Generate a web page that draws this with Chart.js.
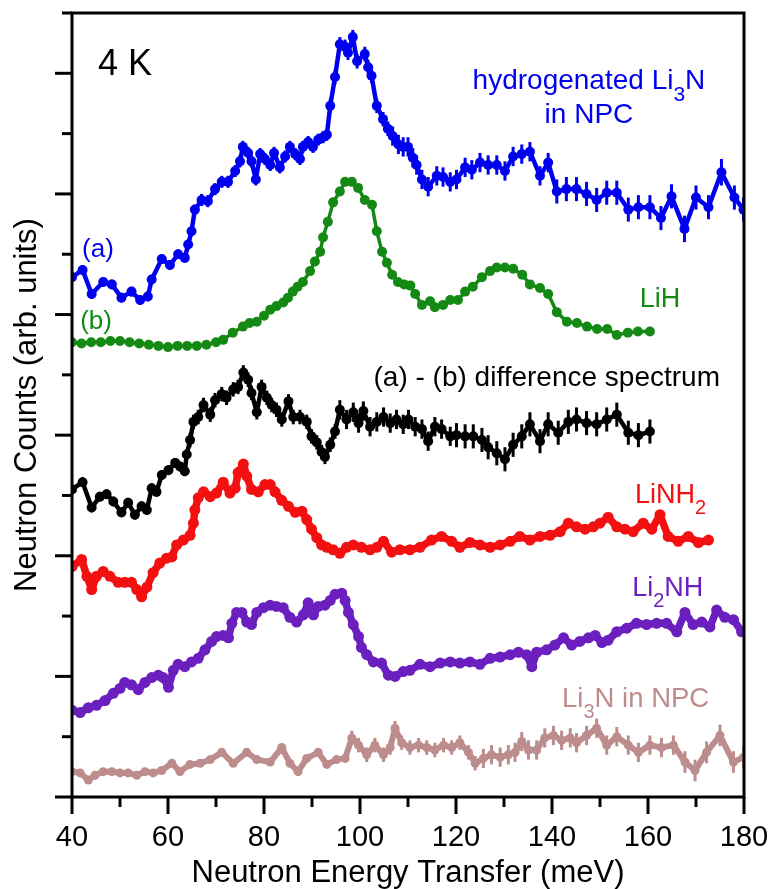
<!DOCTYPE html>
<html><head><meta charset="utf-8">
<script src="https://cdn.jsdelivr.net/npm/chart.js@4.4.1/dist/chart.umd.min.js"></script>
<style>html,body{margin:0;padding:0;background:#fff;overflow:hidden}#wrap{width:774px;height:889px;position:relative}canvas{display:block}</style>
</head><body><div id="wrap"><canvas id="c"></canvas></div>
<script>
// ---------- data (x: meV, y: arbitrary units, e: error half-width) ----------
const xHyd = [40.0,42.2,44.1,46.5,48.3,50.3,52.4,54.2,55.8,56.6,58.7,60.4,62.1,63.5,64.2,64.9,65.6,67.0,68.3,69.8,71.2,72.5,74.0,75.0,75.6,76.7,77.4,78.3,79.2,80.2,81.3,82.1,83.3,84.4,85.4,86.5,87.5,88.1,89.2,90.2,91.3,92.3,93.1,93.8,94.8,95.8,96.9,97.5,98.5,99.4,101.0,101.7,102.4,103.5,104.8,105.8,106.8,108.0,109.0,110.0,111.0,111.8,112.9,114.2,116.0,117.3,118.8,120.1,121.9,123.3,125.0,126.7,128.5,130.2,131.9,133.7,135.4,137.5,139.2,141.0,143.0,145.1,147.2,149.3,151.4,153.5,155.9,158.0,160.4,162.7,164.9,167.6,170.0,172.6,175.3,178.0,179.9];
const yHyd = [4.31,4.37,4.17,4.27,4.25,4.14,4.19,4.12,4.15,4.29,4.46,4.41,4.50,4.47,4.58,4.69,4.87,4.95,4.94,5.04,5.10,5.10,5.19,5.27,5.39,5.34,5.27,5.12,5.33,5.29,5.24,5.34,5.22,5.31,5.39,5.33,5.29,5.39,5.43,5.39,5.45,5.47,5.49,5.73,5.97,6.24,6.22,6.17,6.30,6.10,6.16,6.05,5.98,5.73,5.62,5.54,5.48,5.41,5.39,5.39,5.30,5.24,5.12,5.06,5.15,5.14,5.10,5.12,5.22,5.20,5.26,5.24,5.24,5.19,5.31,5.33,5.35,5.15,5.26,5.02,5.04,5.04,5.00,4.95,5.01,5.01,4.87,4.89,4.89,4.80,4.98,4.71,4.97,4.89,5.18,4.97,4.87];
const eHyd = [0.04,0.04,0.04,0.04,0.04,0.04,0.04,0.04,0.04,0.04,0.04,0.04,0.04,0.04,0.04,0.04,0.04,0.05,0.05,0.05,0.05,0.05,0.05,0.05,0.05,0.05,0.05,0.05,0.05,0.05,0.05,0.05,0.05,0.05,0.05,0.05,0.05,0.05,0.05,0.05,0.05,0.05,0.05,0.06,0.06,0.06,0.06,0.06,0.06,0.06,0.06,0.06,0.06,0.06,0.06,0.06,0.08,0.08,0.08,0.08,0.08,0.08,0.08,0.08,0.08,0.08,0.08,0.08,0.08,0.08,0.08,0.08,0.08,0.08,0.08,0.08,0.08,0.08,0.08,0.10,0.10,0.10,0.10,0.10,0.10,0.10,0.10,0.10,0.10,0.10,0.10,0.11,0.10,0.10,0.11,0.10,0.10];

const xLiH = [40,42,44,46,48,50,52,54,56,58,60,62,64,66,68,70,71.5,73.5,75.6,77.0,78.5,80.0,81.3,82.6,84.0,85.0,86.0,87.0,88.1,89.6,90.6,91.7,92.3,93.3,94.4,95.8,96.9,98.3,99.6,101.0,102.5,103.5,104.6,105.6,106.7,107.9,109.2,110.5,111.5,112.9,114.6,115.6,117.3,118.8,120.4,121.9,123.5,125.4,127.1,128.5,130.2,131.9,133.8,135.4,137.5,139.2,141.0,143.1,145.2,147.3,149.4,151.5,153.5,155.8,157.9,160.4];
const yLiH = [3.77,3.76,3.77,3.77,3.78,3.78,3.77,3.76,3.75,3.74,3.73,3.74,3.74,3.74,3.75,3.77,3.79,3.85,3.90,3.93,3.94,3.99,4.04,4.07,4.10,4.14,4.19,4.23,4.27,4.36,4.44,4.52,4.64,4.77,4.93,5.02,5.10,5.10,5.05,4.95,4.91,4.69,4.52,4.43,4.33,4.27,4.25,4.24,4.17,4.08,4.11,4.06,4.08,4.12,4.12,4.19,4.23,4.31,4.36,4.39,4.39,4.38,4.33,4.25,4.22,4.17,4.02,3.94,3.93,3.90,3.88,3.88,3.83,3.85,3.86,3.86];

const xDiff = [40.0,42.2,44.1,45.8,47.2,48.6,50.3,51.7,53.1,54.5,55.6,56.6,57.6,58.7,60.1,61.5,62.5,63.5,63.9,64.6,65.3,66.3,67.4,68.8,69.8,71.2,72.2,73.6,74.6,75.7,76.7,77.4,78.5,79.5,80.6,81.6,82.6,83.7,85.1,86.1,87.5,88.9,89.9,91.0,92.0,92.7,93.8,94.8,95.8,97.2,98.6,99.7,100.7,102.1,103.5,104.9,106.3,107.6,109.0,110.1,111.5,112.9,114.2,115.6,117.0,118.8,120.1,121.9,123.6,125.4,126.7,128.5,130.2,131.9,133.7,135.4,137.5,139.2,141.3,143.4,145.1,147.2,149.3,151.4,153.5,155.9,158.0,160.4];
const yDiff = [2.55,2.61,2.40,2.49,2.51,2.45,2.36,2.44,2.34,2.41,2.38,2.56,2.53,2.67,2.71,2.77,2.74,2.70,2.84,2.96,3.11,3.15,3.25,3.17,3.29,3.34,3.31,3.38,3.40,3.52,3.46,3.35,3.19,3.40,3.31,3.25,3.21,3.13,3.28,3.15,3.15,3.11,2.99,2.94,2.86,2.82,2.92,3.03,3.21,3.13,3.19,3.10,3.20,3.07,3.11,3.15,3.10,3.13,3.09,3.13,3.07,3.05,2.95,3.07,3.05,2.99,3.00,2.99,2.99,2.96,2.90,2.85,2.80,2.92,2.99,3.09,2.95,3.09,3.02,3.11,3.13,3.10,3.09,3.13,3.17,3.02,3.00,3.03];
const eDiff = [0.04,0.04,0.04,0.04,0.04,0.04,0.04,0.04,0.04,0.04,0.04,0.04,0.04,0.04,0.04,0.04,0.04,0.04,0.04,0.06,0.06,0.06,0.06,0.06,0.06,0.06,0.06,0.06,0.06,0.06,0.06,0.06,0.06,0.06,0.06,0.06,0.06,0.06,0.06,0.06,0.06,0.06,0.06,0.06,0.06,0.06,0.06,0.06,0.08,0.08,0.08,0.08,0.08,0.08,0.08,0.08,0.08,0.08,0.08,0.08,0.08,0.08,0.08,0.08,0.08,0.08,0.10,0.10,0.10,0.10,0.10,0.10,0.10,0.10,0.10,0.10,0.10,0.10,0.10,0.10,0.10,0.10,0.10,0.10,0.10,0.10,0.10,0.10];

const xLiNH2 = [40.0,42.0,43.1,44.1,45.1,46.5,47.9,49.6,51.0,52.4,53.5,54.5,55.6,56.9,58.3,59.7,60.8,61.8,63.2,64.6,65.3,65.6,66.3,67.4,68.8,70.1,71.5,72.9,74.0,74.6,75.7,76.4,77.4,78.8,80.2,81.3,82.3,83.7,85.1,86.5,87.9,88.9,89.9,91.0,92.0,93.1,94.4,95.8,97.2,98.6,100.3,102.1,103.5,104.9,106.6,108.3,110.4,112.5,114.9,117.0,119.1,120.8,122.9,125.0,127.1,129.2,131.3,133.3,135.4,137.5,139.6,141.7,143.4,145.1,146.9,148.6,150.0,151.7,153.5,155.2,156.9,159.0,160.8,162.5,164.2,166.3,168.4,170.5,172.6];
const yLiNH2 = [1.91,1.97,1.83,1.72,1.83,1.87,1.83,1.78,1.78,1.78,1.72,1.66,1.74,1.86,1.94,1.98,1.99,2.09,2.13,2.17,2.27,2.38,2.48,2.53,2.49,2.52,2.61,2.52,2.56,2.69,2.76,2.66,2.55,2.53,2.59,2.59,2.53,2.46,2.41,2.36,2.37,2.30,2.22,2.15,2.09,2.07,2.05,2.02,2.07,2.09,2.07,2.05,2.07,2.12,2.03,2.05,2.05,2.07,2.13,2.16,2.12,2.07,2.11,2.09,2.07,2.09,2.12,2.16,2.13,2.16,2.17,2.20,2.27,2.24,2.22,2.24,2.27,2.32,2.24,2.22,2.20,2.27,2.22,2.34,2.16,2.12,2.16,2.11,2.13];

const xLi2NH = [40.0,41.7,43.4,45.1,46.9,48.6,50.0,51.0,52.4,53.8,55.2,56.6,58.0,59.0,60.1,61.1,62.1,63.5,64.9,66.3,67.7,69.1,70.1,71.5,72.6,73.3,74.3,75.4,76.4,77.4,78.5,79.9,81.3,82.6,84.0,85.4,86.8,88.2,89.2,90.3,91.3,92.7,93.8,94.8,96.2,96.9,97.6,98.6,99.7,100.3,101.4,102.8,104.5,105.9,107.3,109.0,110.4,112.5,114.6,116.7,118.8,120.8,122.9,125.0,127.1,129.2,131.3,133.0,134.7,135.8,136.8,138.9,140.6,142.4,144.1,145.8,147.6,149.0,150.4,151.7,153.5,155.6,157.6,159.7,161.8,163.9,166.0,167.7,169.4,171.2,172.9,174.3,176.0,177.8,179.5];
const yLi2NH = [0.72,0.70,0.74,0.76,0.80,0.86,0.90,0.95,0.93,0.89,0.95,0.99,1.01,0.99,0.91,1.05,1.10,1.08,1.12,1.15,1.22,1.29,1.33,1.34,1.32,1.44,1.53,1.53,1.45,1.43,1.53,1.57,1.59,1.58,1.57,1.49,1.45,1.51,1.61,1.51,1.58,1.59,1.63,1.68,1.69,1.63,1.53,1.43,1.33,1.24,1.18,1.12,1.11,1.01,1.00,1.04,1.05,1.10,1.08,1.11,1.12,1.11,1.12,1.10,1.15,1.16,1.18,1.20,1.18,1.08,1.20,1.22,1.26,1.32,1.26,1.29,1.32,1.34,1.28,1.30,1.37,1.40,1.44,1.43,1.44,1.44,1.37,1.53,1.43,1.45,1.41,1.55,1.49,1.47,1.37];

const xLi3N = [40.0,41.7,43.4,44.8,46.5,48.3,50.0,51.7,53.5,55.2,56.9,58.7,60.8,62.5,64.6,66.7,68.8,71.2,73.6,76.4,78.5,81.3,83.7,85.4,87.1,88.9,91.3,93.1,95.1,96.9,98.3,99.7,101.4,103.1,104.9,106.3,107.3,108.7,110.4,112.2,113.9,115.6,117.4,119.1,120.8,122.6,124.0,125.7,127.4,129.2,130.9,132.3,133.7,135.1,136.8,138.5,140.3,142.0,143.8,145.1,147.2,149.3,151.4,153.5,155.9,158.0,160.4,162.8,165.3,167.7,169.8,172.2,175.0,177.8,179.9];
const yLi3N = [0.21,0.20,0.14,0.18,0.21,0.21,0.20,0.20,0.18,0.21,0.20,0.22,0.28,0.21,0.27,0.28,0.31,0.37,0.28,0.37,0.31,0.29,0.41,0.28,0.21,0.32,0.37,0.27,0.31,0.32,0.49,0.43,0.35,0.43,0.35,0.41,0.57,0.45,0.41,0.43,0.41,0.39,0.43,0.41,0.45,0.37,0.28,0.32,0.35,0.33,0.35,0.37,0.46,0.39,0.39,0.49,0.51,0.47,0.49,0.45,0.51,0.57,0.43,0.50,0.43,0.37,0.43,0.41,0.43,0.29,0.22,0.37,0.51,0.29,0.33];
const eLi3N = [0.02,0.02,0.02,0.02,0.02,0.02,0.02,0.02,0.02,0.02,0.02,0.02,0.02,0.02,0.02,0.02,0.02,0.02,0.02,0.02,0.02,0.02,0.02,0.02,0.02,0.02,0.02,0.02,0.02,0.02,0.06,0.06,0.06,0.06,0.06,0.06,0.06,0.06,0.06,0.06,0.06,0.06,0.06,0.06,0.06,0.06,0.06,0.08,0.08,0.08,0.08,0.08,0.08,0.08,0.08,0.08,0.08,0.08,0.08,0.08,0.08,0.08,0.08,0.08,0.08,0.08,0.08,0.08,0.08,0.09,0.09,0.09,0.09,0.09,0.09];

const xTickStep = 10;
const yTickStep = 0.5;

// ---------- chart ----------
const FONT = "'Liberation Sans', Arial, Helvetica, sans-serif";
const C = {blue:'#0000f0', green:'#148a14', black:'#000000', red:'#f21010', purple:'#6b1fbf', rosy:'#bd8c8c'};
function pts(xs, ys){ return xs.map((x,i)=>({x:x, y:ys[i]})); }
function series(xs, ys, color, r, bw, errs){
  const d = {data: pts(xs, ys), borderColor: color, backgroundColor: color, pointBackgroundColor: color,
    pointBorderColor: color, pointBorderWidth: 0, pointRadius: r, pointHoverRadius: r, borderWidth: bw,
    tension: 0, fill: false, borderJoinStyle: 'round', borderCapStyle: 'round'};
  if (errs) d.errors = errs;
  return d;
}

const errorBars = {
  id: 'errorBars',
  afterDatasetsDraw(chart){
    const ctx = chart.ctx, ys = chart.scales.y, a = chart.chartArea;
    ctx.save();
    ctx.beginPath(); ctx.rect(a.left, a.top, a.right - a.left, a.bottom - a.top); ctx.clip();
    chart.data.datasets.forEach((ds, i) => {
      if (!ds.errors) return;
      const meta = chart.getDatasetMeta(i);
      ctx.strokeStyle = ds.borderColor; ctx.lineWidth = 3;
      meta.data.forEach((el, j) => {
        const v = ds.data[j].y, e = ds.errors[j];
        ctx.beginPath();
        ctx.moveTo(el.x, ys.getPixelForValue(v + e));
        ctx.lineTo(el.x, ys.getPixelForValue(v - e));
        ctx.stroke();
      });
    });
    ctx.restore();
  }
};

const frameTicks = {
  id: 'frameTicks',
  afterDraw(chart){
    const {ctx, chartArea: a, scales: {x, y}} = chart;
    ctx.save(); ctx.strokeStyle = '#000'; ctx.lineWidth = 3; ctx.lineCap = 'square';
    ctx.strokeRect(a.left, a.top, a.right - a.left, a.bottom - a.top);
    ctx.lineCap = 'butt';
    x.ticks.forEach(t => {
      const px = x.getPixelForValue(t.value);
      const L = (Math.round(t.value) % 20 === 0) ? 17 : 10;
      ctx.beginPath(); ctx.moveTo(px, a.bottom); ctx.lineTo(px, a.bottom + L); ctx.stroke();
    });
    y.ticks.forEach(t => {
      const py = y.getPixelForValue(t.value);
      const L = (Math.abs(t.value - Math.round(t.value)) < 1e-6) ? 17 : 10;
      ctx.beginPath(); ctx.moveTo(a.left, py); ctx.lineTo(a.left - L, py); ctx.stroke();
    });
    ctx.restore();
  }
};

// text labels: parts are [text, isSubscript]
const labels = [
  {parts:[['4 K',0]], x:45.4, y:5.99, size:36, color:C.black, align:'left'},
  {parts:[['hydrogenated Li',0],['3',1],['N',0]], x:147.7, y:5.87, size:28, color:C.blue, align:'center'},
  {parts:[['in NPC',0]], x:147.7, y:5.59, size:28, color:C.blue, align:'center'},
  {parts:[['(a)',0]], x:42.1, y:4.48, size:26, color:C.blue, align:'left'},
  {parts:[['(b)',0]], x:41.7, y:3.88, size:26, color:C.green, align:'left'},
  {parts:[['LiH',0]], x:158.3, y:4.06, size:27, color:C.green, align:'left'},
  {parts:[['(a) - (b) difference spectrum',0]], x:175.0, y:3.41, size:28, color:C.black, align:'right'},
  {parts:[['LiNH',0],['2',1]], x:157.3, y:2.44, size:27, color:C.red, align:'left'},
  {parts:[['Li',0],['2',1],['NH',0]], x:156.7, y:1.67, size:27, color:C.purple, align:'left'},
  {parts:[['Li',0],['3',1],['N in NPC',0]], x:142.1, y:0.75, size:27.5, color:C.rosy, align:'left'}
];
const textLabels = {
  id: 'textLabels',
  afterDraw(chart){
    const {ctx, scales: {x, y}} = chart;
    ctx.save(); ctx.textBaseline = 'alphabetic'; ctx.textAlign = 'left';
    labels.forEach(l => {
      const subSize = Math.round(l.size * 0.74);
      let w = 0;
      l.parts.forEach(p => { ctx.font = (p[1] ? subSize : l.size) + 'px ' + FONT; w += ctx.measureText(p[0]).width; });
      let px = x.getPixelForValue(l.x), py = y.getPixelForValue(l.y);
      if (l.align === 'center') px -= w / 2; else if (l.align === 'right') px -= w;
      ctx.fillStyle = l.color;
      l.parts.forEach(p => {
        ctx.font = (p[1] ? subSize : l.size) + 'px ' + FONT;
        ctx.fillText(p[0], px, py + (p[1] ? l.size * 0.42 : 0));
        px += ctx.measureText(p[0]).width;
      });
    });
    ctx.restore();
  }
};

new Chart(document.getElementById('c'), {
  type: 'line',
  data: {
    datasets: [
      series(xHyd, yHyd, C.blue, 5, 4.5, eHyd),
      series(xLiH, yLiH, C.green, 5, 3.5),
      series(xDiff, yDiff, C.black, 5, 4.5, eDiff),
      series(xLiNH2, yLiNH2, C.red, 5.5, 7.5),
      series(xLi2NH, yLi2NH, C.purple, 5.5, 7.5),
      series(xLi3N, yLi3N, C.rosy, 4.5, 6, eLi3N)
    ]
  },
  options: {
    responsive: true, maintainAspectRatio: false, animation: false,
    layout: {padding: {top: 13, right: 30, left: 0, bottom: 0}},
    plugins: {legend: {display: false}, tooltip: {enabled: false}},
    scales: {
      x: {
        type: 'linear', min: 40, max: 180,
        afterFit(s){ s.height = 92; s.paddingLeft = 0; s.paddingRight = 0; },
        grid: {display: false, drawTicks: false}, border: {display: false},
        ticks: {stepSize: xTickStep, autoSkip: false, maxRotation: 0, padding: 24, color: '#000',
          font: {family: FONT, size: 29}, callback: v => (Math.round(v) % 20 === 0 ? String(v) : '')},
        title: {display: true, text: 'Neutron Energy Transfer (meV)', color: '#000',
          font: {family: FONT, size: 31, lineHeight: 1}, padding: {top: 0, bottom: 0}}
      },
      y: {
        type: 'linear', min: 0, max: 6.5,
        afterFit(s){ s.width = 72; s.paddingTop = 0; s.paddingBottom = 0; },
        grid: {display: false, drawTicks: false}, border: {display: false},
        ticks: {stepSize: yTickStep, display: false},
        title: {display: true, text: 'Neutron Counts (arb. units)', color: '#000',
          font: {family: FONT, size: 31, lineHeight: 1}, padding: {top: 12, bottom: 0}}
      }
    }
  },
  plugins: [errorBars, frameTicks, textLabels]
});
</script>
</body></html>
